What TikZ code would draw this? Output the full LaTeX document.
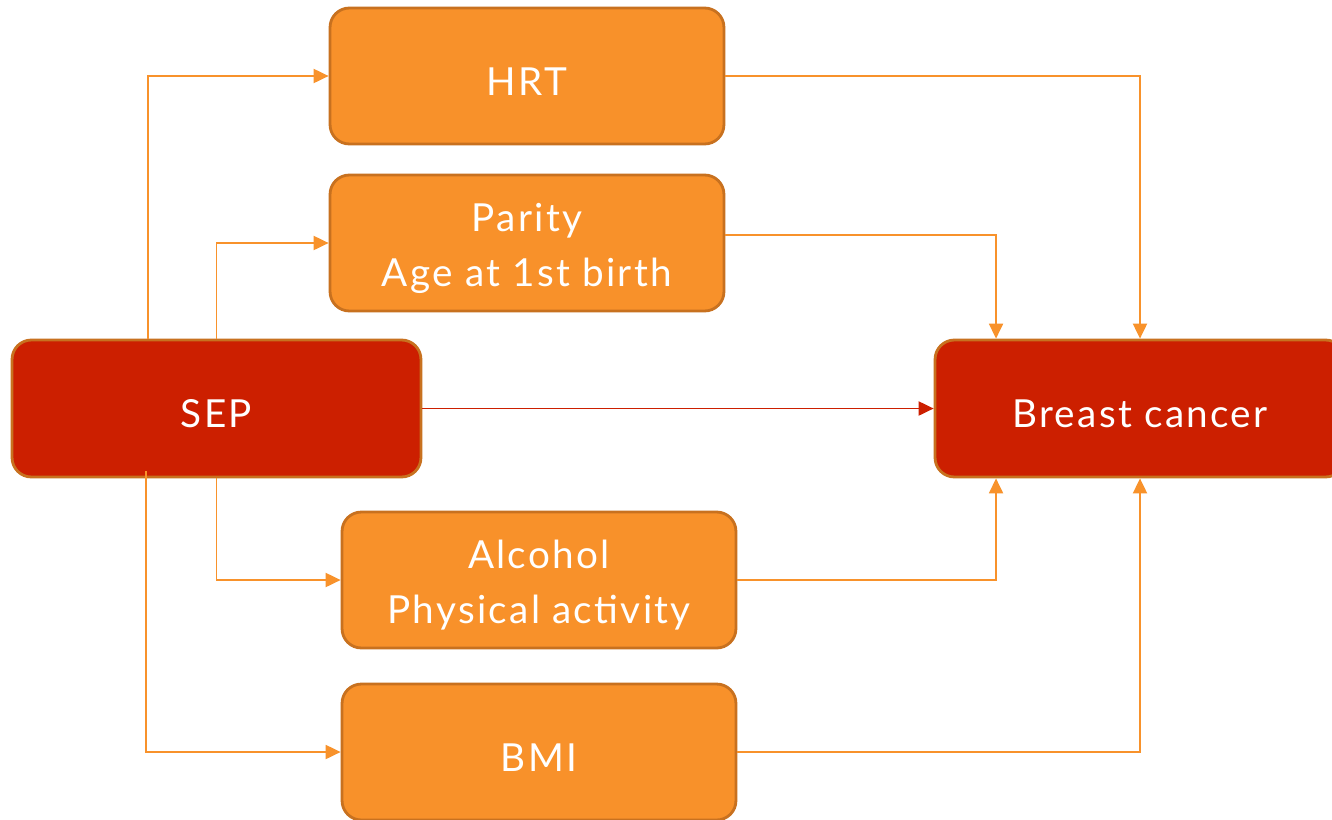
\documentclass[tikz,border=0pt]{standalone}
\usepackage{fontspec}
\setmainfont[LetterSpace=6]{Lato}
\usetikzlibrary{arrows.meta,calc,positioning}
\definecolor{boxfill}{HTML}{F8912A}
\definecolor{boxline}{HTML}{C8711F}
\definecolor{redfill}{HTML}{CC1F00}
\definecolor{wire}{HTML}{F8922B}
\definecolor{redwire}{HTML}{CC1F00}
\newcommand{\toppad}{\rule{0pt}{22pt}}
\tikzset{
  factor/.style={draw=boxline,fill=boxfill,line width=1.6pt,rounded corners=11pt,
    minimum width=7.88cm,minimum height=2.72cm,text=white,align=center,
    font=\fontsize{22}{31.5}\selectfont},
  endpoint/.style={factor,fill=redfill,minimum width=8.2cm,minimum height=2.74cm},
  link/.style={wire,line width=1.1pt,-{Triangle[length=0.3cm,width=0.28cm]}},
  redlink/.style={link,redwire}
}
\begin{document}
\begin{tikzpicture}[x=0.02cm,y=-0.02cm]
  \path[use as bounding box] (0,0) rectangle (1332,819);
  \fill[white] (0,0) rectangle (1332,819);

  % exposures and outcome
  \node[endpoint,minimum width=8.18cm] (sep) at (216.5,408.5) {\toppad SEP};
  \node[endpoint] (cancer) at (1140,408.5) {\toppad Breast cancer};

  % mediators
  \node[factor] (hrt) at (527,76) {\toppad HRT};
  \node[factor] (parity) at (527,243) {\toppad Parity\\Age at 1st birth};
  \node[factor] (alcohol) at (539,580) {\toppad Alcohol\\Physical activity};
  \node[factor] (bmi) at (539,752) {\toppad BMI};

  \draw[link] ([xshift=-1.37cm]sep.north) |- (hrt.west);
  \draw[link] (sep.north) |- (parity.west);
  \draw[link] (sep.south) |- (alcohol.west);
  \draw[link] ([xshift=-1.41cm,yshift=0.14cm]sep.south) |- (bmi.west);
  \draw[redlink] (sep.east) -- (cancer.west);

  \draw[link] (hrt.east) -| (cancer.north);
  \draw[link] ([yshift=0.16cm]parity.east) -| ([xshift=-2.88cm]cancer.north);
  \draw[link] (alcohol.east) -| ([xshift=-2.88cm]cancer.south);
  \draw[link] (bmi.east) -| (cancer.south);
\end{tikzpicture}
\end{document}
